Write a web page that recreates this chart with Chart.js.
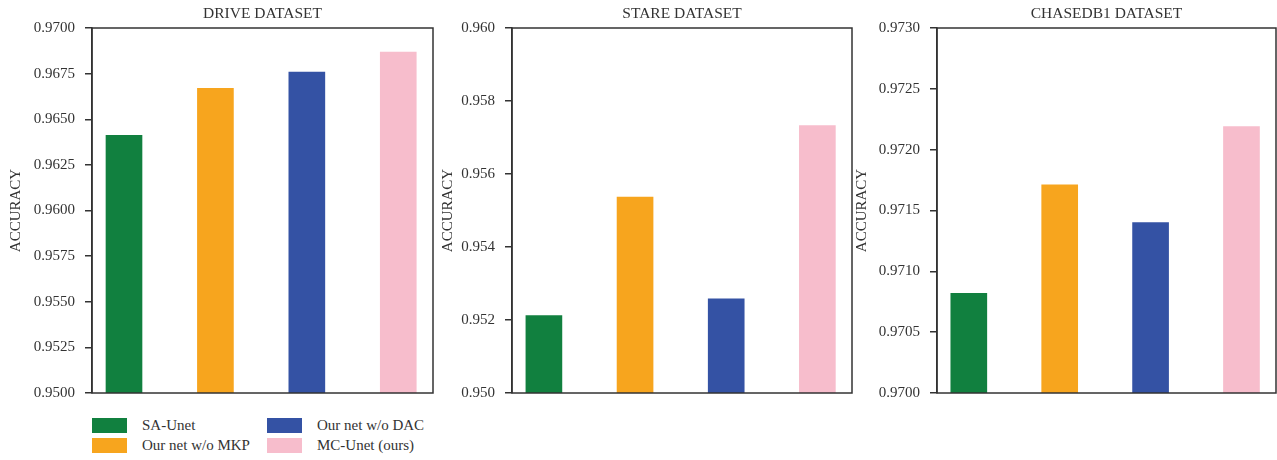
<!DOCTYPE html>
<html>
<head>
<meta charset="utf-8">
<script src="https://cdn.jsdelivr.net/npm/chart.js@4"></script>
<style>
  body { margin: 0; background: #fff; width: 1277px; height: 460px; position: relative; overflow: hidden; }
  .box { position: absolute; top: 0; height: 412px; }
  #legend { position: absolute; left: 92px; top: 415px; display: grid;
    grid-template-columns: 175px 180px; grid-auto-flow: column; grid-template-rows: 20px 20px;
    font-family: "Liberation Serif", serif; font-size: 15px; color: #333; }
  #legend div { display: flex; align-items: center; height: 20px; }
  #legend span { display: inline-block; width: 35px; height: 15px; margin-right: 15px; }
</style>
</head>
<body>
<div class="box" style="left:0px;width:434px"><canvas id="c0"></canvas></div>
<div class="box" style="left:432px;width:421px"><canvas id="c1"></canvas></div>
<div class="box" style="left:846px;width:431px"><canvas id="c2"></canvas></div>
<div id="legend"></div>
<script>
// Methods and colours
const methods = ["SA-Unet", "Our net w/o MKP", "Our net w/o DAC", "MC-Unet (ours)"];
const colors = ["#11803f", "#f7a51e", "#3452a4", "#f7bdcc"];

// Accuracy per dataset
const driveAcc = [0.96412, 0.96670, 0.96758, 0.96868];
const stareAcc = [0.95212, 0.95537, 0.95258, 0.95733];
const chaseAcc = [0.97082, 0.97171, 0.97140, 0.97219];

// Panel titles and y axis ranges
const titles = ["DRIVE DATASET", "STARE DATASET", "CHASEDB1 DATASET"];
const yMin = [0.95, 0.95, 0.97];
const yMax = [0.97, 0.96, 0.973];
const yStep = [0.0025, 0.002, 0.0005];
const yDecimals = [4, 3, 4];

const allAcc = [driveAcc, stareAcc, chaseAcc];
const axisWidth = [92, 80, 91];

const font = "'Liberation Serif', serif";
const ink = "#333";

// draw a frame round the plot area (top and right sides too)
const framePlugin = {
  id: "frame",
  afterDatasetsDraw(chart) {
    const a = chart.chartArea;
    const ctx = chart.ctx;
    ctx.save();
    ctx.strokeStyle = ink;
    ctx.lineWidth = 1.5;
    ctx.strokeRect(a.left, a.top, a.right - a.left, a.bottom - a.top);
    ctx.restore();
  },
};

for (let i = 0; i < 3; i++) {
  new Chart(document.getElementById("c" + i), {
    type: "bar",
    data: {
      datasets: [
        {
          label: "Accuracy",
          data: allAcc[i].map((v, k) => ({ x: k, y: v })),
          backgroundColor: colors,
          barThickness: 36,
        },
      ],
    },
    options: {
      responsive: true,
      maintainAspectRatio: false,
      animation: false,
      layout: { padding: { top: 0, right: 1, bottom: 0, left: 0 } },
      plugins: {
        legend: { display: false },
        tooltip: {
          callbacks: {
            title: (items) => methods[items[0].dataIndex],
          },
        },
      },
      scales: {
        x: {
          type: "linear",
          offset: false,
          min: -0.35,
          max: 3.38,
          ticks: { display: false },
          grid: { display: false },
          border: { display: false },
          afterFit: (s) => { s.height = 12; },
        },
        // top axis only carries the panel title, centred over the plot
        top: {
          type: "linear",
          position: "top",
          min: 0,
          max: 1,
          ticks: { display: false },
          grid: { display: false },
          border: { display: false },
          title: {
            display: true,
            text: titles[i],
            color: ink,
            font: { family: font, size: 15.5 },
            padding: { top: 5, bottom: 0 },
          },
          afterFit: (s) => { s.height = 28; },
        },
        y: {
          min: yMin[i],
          max: yMax[i],
          ticks: {
            stepSize: yStep[i],
            color: ink,
            padding: 10,
            font: { family: font, size: 15 },
            callback: (v) => v.toFixed(yDecimals[i]),
          },
          grid: { drawOnChartArea: false, drawTicks: true, tickLength: 7, color: ink, lineWidth: 1.5 },
          border: { color: ink, width: 1.5 },
          title: {
            display: true,
            text: "ACCURACY",
            color: ink,
            font: { family: font, size: 15 },
            padding: { top: 7, bottom: 0 },
          },
          afterFit: (s) => { s.width = axisWidth[i]; },
        },
      },
    },
    plugins: [framePlugin],
  });
}

// legend below the first panel, two columns
const legend = document.getElementById("legend");
methods.forEach((m, k) => {
  const item = document.createElement("div");
  const sw = document.createElement("span");
  sw.style.background = colors[k];
  item.appendChild(sw);
  item.appendChild(document.createTextNode(m));
  legend.appendChild(item);
});
</script>
</body>
</html>
